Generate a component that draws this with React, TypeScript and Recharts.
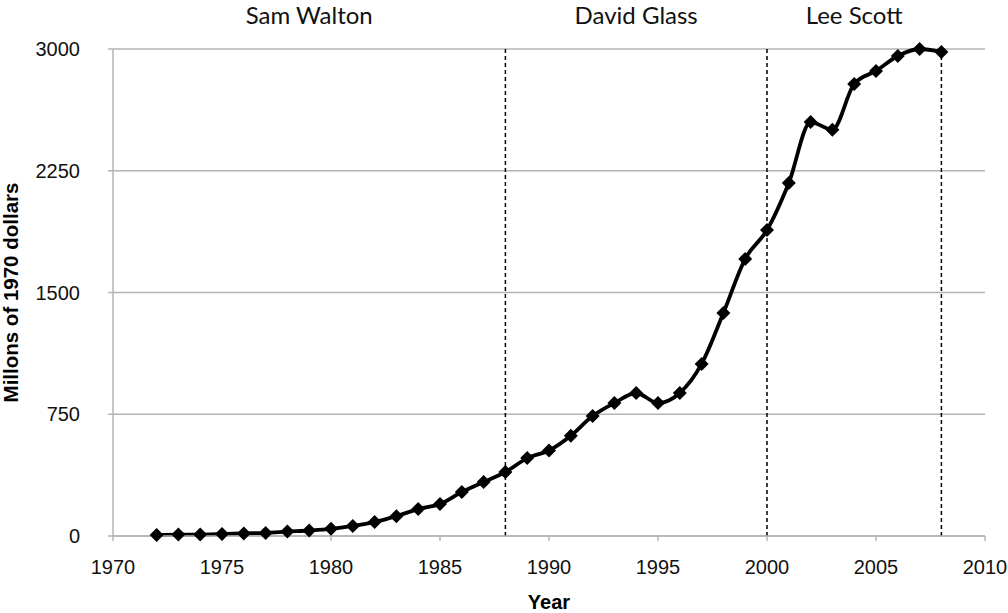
import {
  CartesianGrid,
  Line,
  LineChart,
  ReferenceArea,
  ReferenceLine,
  XAxis,
  YAxis
} from "recharts";

const YEARS = [
  1972, 1973, 1974, 1975, 1976, 1977, 1978, 1979, 1980, 1981, 1982, 1983, 1984,
  1985, 1986, 1987, 1988, 1989, 1990, 1991, 1992, 1993, 1994, 1995, 1996, 1997,
  1998, 1999, 2000, 2001, 2002, 2003, 2004, 2005, 2006, 2007, 2008
];
const REVENUE = [
  6, 9, 9, 12, 16, 19, 27, 34, 44, 62, 86, 122, 166, 197, 271, 333, 394, 480,
  527, 618, 739, 819, 881, 819, 881, 1060, 1374, 1707, 1885, 2175, 2550, 2503,
  2785, 2865, 2957, 3000, 2982
];

const CEO_NAMES = ["Sam Walton", "David Glass", "Lee Scott"];
const CEO_START = [1970, 1988, 2000];
const CEO_END = [1988, 2000, 2008];

const X_TICKS = [1970, 1975, 1980, 1985, 1990, 1995, 2000, 2005, 2010];
const Y_TICKS = [0, 750, 1500, 2250, 3000];

const data = YEARS.map((year, i) => ({ year, value: REVENUE[i] }));

const AXIS_GREY = "#b4b4b4";
const TICK_FONT = "'Liberation Sans', Arial, Helvetica, sans-serif";

function Diamond(props: any) {
  const { cx, cy } = props;
  if (cx == null || cy == null) return null;
  const r = 7;
  return (
    <polygon
      points={`${cx},${cy - r} ${cx + r},${cy} ${cx},${cy + r} ${cx - r},${cy}`}
      fill="#000"
    />
  );
}

export default function App() {
  return (
    <div style={{ position: "absolute", left: 0, top: 0, background: "#fff" }}>
      <LineChart
        width={1008}
        height={613}
        data={data}
        margin={{ top: 49, right: 23, left: 0, bottom: 0 }}
      >
        <CartesianGrid vertical={false} stroke={AXIS_GREY} strokeWidth={1.5} />
        <XAxis
          dataKey="year"
          type="number"
          domain={[1970, 2010]}
          ticks={X_TICKS}
          height={77}
          stroke={AXIS_GREY}
          strokeWidth={1.5}
          tickSize={5}
          tickMargin={19}
          tick={{ fill: "#111", fontSize: 20, fontFamily: TICK_FONT }}
          label={{
            value: "Year",
            position: "insideBottom",
            offset: 4,
            fill: "#000",
            fontSize: 20,
            fontWeight: 700,
            fontFamily: TICK_FONT
          }}
        />
        <YAxis
          domain={[0, 3000]}
          ticks={Y_TICKS}
          width={113}
          stroke={AXIS_GREY}
          strokeWidth={1.5}
          tickSize={5}
          tickMargin={28}
          tick={{ fill: "#111", fontSize: 20, fontFamily: TICK_FONT }}
          label={{
            value: "Millons of 1970 dollars",
            angle: -90,
            position: "insideLeft",
            offset: 11,
            fill: "#000",
            fontSize: 20.5,
            fontWeight: 700,
            fontFamily: TICK_FONT,
            style: { textAnchor: "middle" }
          }}
        />
        {CEO_NAMES.map((name, i) => (
          <ReferenceArea
            key={name}
            x1={CEO_START[i]}
            x2={CEO_END[i]}
            fill="none"
            label={{
              value: name,
              position: "top",
              offset: 25,
              fill: "#111",
              fontSize: 24,
              fontFamily: "Lato, 'Open Sans', sans-serif"
            }}
          />
        ))}
        {CEO_END.map((year) => (
          <ReferenceLine
            key={year}
            x={year}
            stroke="#000"
            strokeWidth={1.5}
            strokeDasharray="4 3"
          />
        ))}
        <Line
          type="monotone"
          dataKey="value"
          stroke="#000"
          strokeWidth={3.8}
          dot={<Diamond />}
          activeDot={false}
          isAnimationActive={false}
        />
      </LineChart>
    </div>
  );
}
